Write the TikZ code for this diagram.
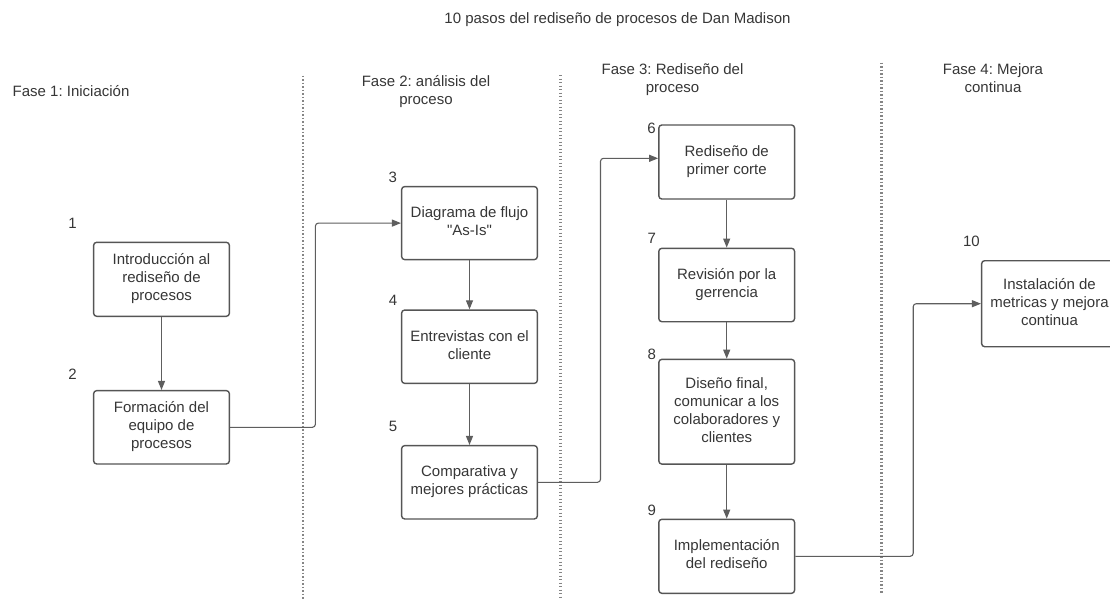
\documentclass[tikz,border=0pt]{standalone}
\usepackage{fontspec}
\setmainfont{Liberation Sans}[Ligatures=TeXOff]
\usetikzlibrary{arrows.meta}
\definecolor{ink}{HTML}{363636}
\definecolor{edge}{HTML}{555555}
\definecolor{wire}{HTML}{5E5E5E}
\definecolor{sep}{HTML}{858585}
\frenchspacing

\begin{document}
\begin{tikzpicture}[x=1pt,y=-1pt,
  every node/.style={font=\fontsize{15}{18}\selectfont, text=ink},
  stepbox/.style={draw=edge, line width=1.4pt, rounded corners=3pt,
    minimum width=135.7pt, inner sep=0pt, align=center},
  num/.style={inner sep=0pt},
  phase/.style={inner sep=0pt, align=center},
  conn/.style={draw=wire, line width=1.1pt, rounded corners=3pt,
    -{Triangle[length=9pt,width=7pt]}},
  divider/.style={draw=sep, line width=2.4pt, dash pattern=on 1.3pt off 2.2pt}]
\useasboundingbox (0,0) rectangle (1110,602);

% title and phase headings
\node[inner sep=0pt, anchor=base] (title) at (617.5,23.5)
  {10 pasos del rediseño de procesos de Dan Madison};
\node[inner sep=0pt, anchor=base west] (f1) at (12.5,96.7) {Fase 1: Iniciación};
\node[phase] (f2) at (426,91.8) {\strut Fase 2: análisis del\\\strut proceso};
\node[phase] (f3) at (672.5,80) {\strut Fase 3: Rediseño del\\\strut proceso};
\node[phase] (f4) at (993,80) {\strut Fase 4: Mejora\\\strut continua};

% phase separators
\coordinate (s1a) at (303,75.7);   \coordinate (s1b) at (303,599);
\coordinate (s2a) at (560.5,75);   \coordinate (s2b) at (560.5,598);
\coordinate (s3a) at (881.4,62.7); \coordinate (s3b) at (881.4,592.7);
\draw[divider] (s1a) -- (s1b);
\draw[divider] (s2a) -- (s2b);
\draw[divider] (s3a) -- (s3b);

% phase 1
\node[stepbox, minimum height=74pt] (b1) at (161.5,279.3)
  {\strut Introducción al\\\strut rediseño de\\\strut procesos};
\node[stepbox, minimum height=73.3pt] (b2) at (161.5,427.3)
  {\strut Formación del\\\strut equipo de\\\strut procesos};
\node[num] (n1) at (72.5,223.3) {1};
\node[num] (n2) at (72.5,374) {2};

% phase 2
\node[stepbox, minimum height=73pt] (b3) at (469.5,223.1)
  {\strut Diagrama de flujo\\\strut "As-Is"};
\node[stepbox, minimum height=73.3pt] (b4) at (469.5,346.7)
  {\strut Entrevistas con el\\\strut cliente};
\node[stepbox, minimum height=73.3pt] (b5) at (469.5,482.3)
  {\strut Comparativa y\\\strut mejores prácticas};
\node[num] (n3) at (392.7,177.3) {3};
\node[num] (n4) at (393,300) {4};
\node[num] (n5) at (393,426.7) {5};

% phase 3
\node[stepbox, minimum height=74pt] (b6) at (726.7,162)
  {\strut Rediseño de\\\strut primer corte};
\node[stepbox, minimum height=73.4pt] (b7) at (726.7,285)
  {\strut Revisión por la\\\strut gerrencia};
\node[stepbox, minimum height=104.7pt] (b8) at (726.7,411.7)
  {\strut Diseño final,\\\strut comunicar a los\\\strut colaboradores y\\\strut clientes};
\node[stepbox, minimum height=74pt] (b9) at (726.7,556.3)
  {\strut Implementación\\\strut del rediseño};
\node[num] (n6) at (651.5,128.3) {6};
\node[num] (n7) at (651.8,238.3) {7};
\node[num] (n8) at (651.8,354) {8};
\node[num] (n9) at (651.8,510) {9};

% phase 4
\node[stepbox, minimum height=86pt] (b10) at (1049.5,303.7)
  {\strut Instalación de\\\strut metricas y mejora\\\strut continua};
\node[num] (n10) at (971.4,241.7) {10};

% connectors
\coordinate (j1) at (315.4,223.1);
\coordinate (j2) at (600.5,158.3);
\coordinate (j3) at (913.2,303.7);

\draw[conn] (b1) -- (b2);
\draw[conn] (b2.east) -| (j1) -- (b3.west);
\draw[conn] (b3) -- (b4);
\draw[conn] (b4) -- (b5);
\draw[conn] (b5.east) -| (j2) -- (j2 -| b6.west);
\draw[conn] (b6) -- (b7);
\draw[conn] (b7) -- (b8);
\draw[conn] (b8) -- (b9);
\draw[conn] (b9.east) -| (j3) -- (b10.west);
\end{tikzpicture}
\end{document}
